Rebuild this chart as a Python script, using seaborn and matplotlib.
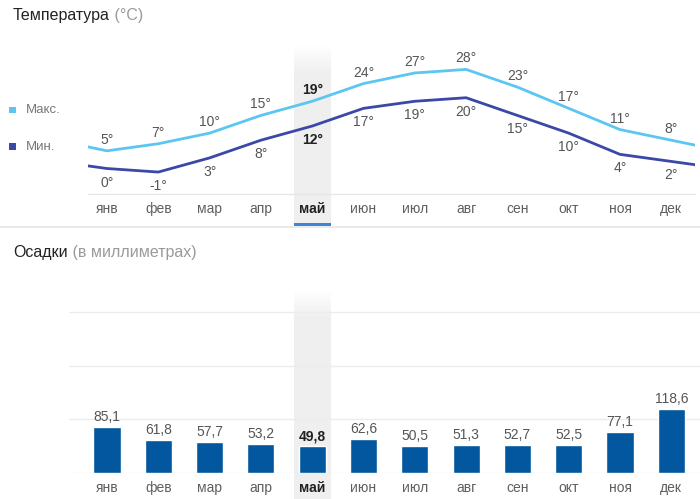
import numpy as np
import pandas as pd
import matplotlib
matplotlib.use("Agg")
import matplotlib.pyplot as plt
import seaborn as sns

# ---- data ----
months = ['янв', 'фев', 'мар', 'апр', 'май', 'июн', 'июл', 'авг', 'сен', 'окт', 'ноя', 'дек']
t_max = [5, 7, 10, 15, 19, 24, 27, 28, 23, 17, 11, 8]
t_min = [0, -1, 3, 8, 12, 17, 19, 20, 15, 10, 4, 2]
precip = [85.1, 61.8, 57.7, 53.2, 49.8, 62.6, 50.5, 51.3, 52.7, 52.5, 77.1, 118.6]
current = 'май'

sns.set_style('white')
plt.rcParams['font.family'] = ['Liberation Sans', 'DejaVu Sans']

C_MAX = '#5cc6f2'
C_MIN = '#3b48a6'
C_BAR = '#02579e'
C_TXT = '#555555'
C_MON = '#5f5f5f'

W, H = 700, 499
fig = plt.figure(figsize=(W / 100, H / 100), dpi=100)


def ax_px(l, t, r, b, z=1):
    return fig.add_axes([l / W, 1 - b / H, (r - l) / W, (b - t) / H], zorder=z)


# background layer (pixel coordinates)
bg = ax_px(0, 0, W, H, z=0)
bg.set_xlim(0, W)
bg.set_ylim(H, 0)
bg.axis('off')

X0, DX = 107.0, 51.3
ci = months.index(current)
cx = X0 + DX * ci
bl, br = cx - 18.5, cx + 18.5


def band(top, bottom, fade=28):
    n = 200
    rgba = np.zeros((n, 1, 4))
    rgba[..., :3] = 0.94
    ys = np.linspace(top, bottom, n)
    rgba[:, 0, 3] = np.clip((ys - top) / fade, 0, 1)
    bg.imshow(rgba, extent=[bl, br, bottom, top], aspect='auto', zorder=0, interpolation='bilinear')


band(45, 226)
band(290, 499)
bg.set_xlim(0, W)
bg.set_ylim(H, 0)
bg.plot([0, W], [227, 227], color='#e6e6e6', lw=1.2, zorder=1)
bg.add_patch(plt.Rectangle((bl, 222.5), br - bl, 3.5, color='#3d83d6', lw=0, zorder=2))

# titles
t1 = bg.text(13, 15, 'Температура', fontsize=11.5, color='#222222', va='center', ha='left')
bg.annotate(' (°C)', xy=(1, 0.5), xycoords=t1, fontsize=11.5, color='#9a9a9a', va='center', ha='left')
t2 = bg.text(13, 253, 'Осадки', fontsize=11.5, color='#222222', va='center', ha='left')
bg.annotate(' (в миллиметрах)', xy=(1, 0.5), xycoords=t2, fontsize=11.5, color='#9a9a9a',
            va='center', ha='left')

# legend
bg.add_patch(plt.Rectangle((9, 106.5), 6.5, 6.5, color=C_MAX, lw=0))
bg.text(26, 110, 'Макс.', fontsize=9.5, color='#777777', va='center')
bg.add_patch(plt.Rectangle((9, 143), 6.5, 6.5, color=C_MIN, lw=0))
bg.text(26, 146.5, 'Мин.', fontsize=9.5, color='#777777', va='center')

# ---- temperature chart ----
ax1 = ax_px(88, 45, 695, 194, z=2)
ax1.patch.set_visible(False)
xs = np.arange(-1, 13)
ymax_wrap = np.r_[t_max[-1], t_max, t_max[0]]
ymin_wrap = np.r_[t_min[-1], t_min, t_min[0]]
sns.lineplot(x=xs, y=ymax_wrap, color=C_MAX, lw=2, ax=ax1, sort=False)
sns.lineplot(x=xs, y=ymin_wrap, color=C_MIN, lw=2, ax=ax1, sort=False)
ax1.set_xlim((88 - X0) / DX, (695 - X0) / DX)
ax1.set_ylim(-7.2, 34.9)
for i, (hi, lo) in enumerate(zip(t_max, t_min)):
    cur = months[i] == current
    kw = dict(fontsize=10, ha='center', va='center', textcoords='offset pixels',
              color='#222222' if cur else C_TXT, fontweight='bold' if cur else 'normal')
    ax1.annotate(f'{hi}°', (i, hi), xytext=(0, 11), **kw)
    ax1.annotate(f'{lo}°', (i, lo), xytext=(0, -14), **kw)
for s in ['top', 'right', 'left']:
    ax1.spines[s].set_visible(False)
ax1.spines['bottom'].set_color('#e6e6e6')
ax1.spines['bottom'].set_linewidth(1)
ax1.set_yticks([])
ax1.set_xticks(range(12))
ax1.set_xticklabels(months, fontsize=10, color=C_MON)
ax1.tick_params(axis='x', length=0, pad=6)
ax1.set_xlabel('')
ax1.set_ylabel('')

# ---- precipitation chart ----
ax2 = ax_px(69, 290, 700, 473, z=2)
ax2.patch.set_visible(False)
df = pd.DataFrame({'month': months, 'precip': precip})
sns.barplot(data=df, x='month', y='precip', order=months, color=C_BAR,
            saturation=1, width=0.53, ax=ax2)
ax2.set_xlim((69 - X0) / DX, (700 - X0) / DX)
ax2.set_ylim(0, 340.8)
ax2.set_yticks([0, 100, 200, 300])
ax2.set_yticklabels([])
ax2.grid(axis='y', color='#ececec', lw=1)
ax2.set_axisbelow(True)
for s in ['top', 'right', 'left', 'bottom']:
    ax2.spines[s].set_visible(False)
ax2.tick_params(axis='both', length=0)
ax2.tick_params(axis='x', pad=6)
ax2.set_xticks(range(12))
ax2.set_xticklabels(months, fontsize=10, color=C_MON)
for i, v in enumerate(precip):
    cur = months[i] == current
    ax2.annotate(f'{v:.1f}'.replace('.', ','), (i, v), xytext=(0, 10), textcoords='offset pixels',
                 ha='center', va='center', fontsize=10,
                 color='#222222' if cur else C_TXT, fontweight='bold' if cur else 'normal')
ax2.set_xlabel('')
ax2.set_ylabel('')

for ax in (ax1, ax2):
    for lab in ax.get_xticklabels():
        if lab.get_text() == current:
            lab.set_fontweight('bold')
            lab.set_color('#222222')

fig.savefig('out.png', dpi=100)
